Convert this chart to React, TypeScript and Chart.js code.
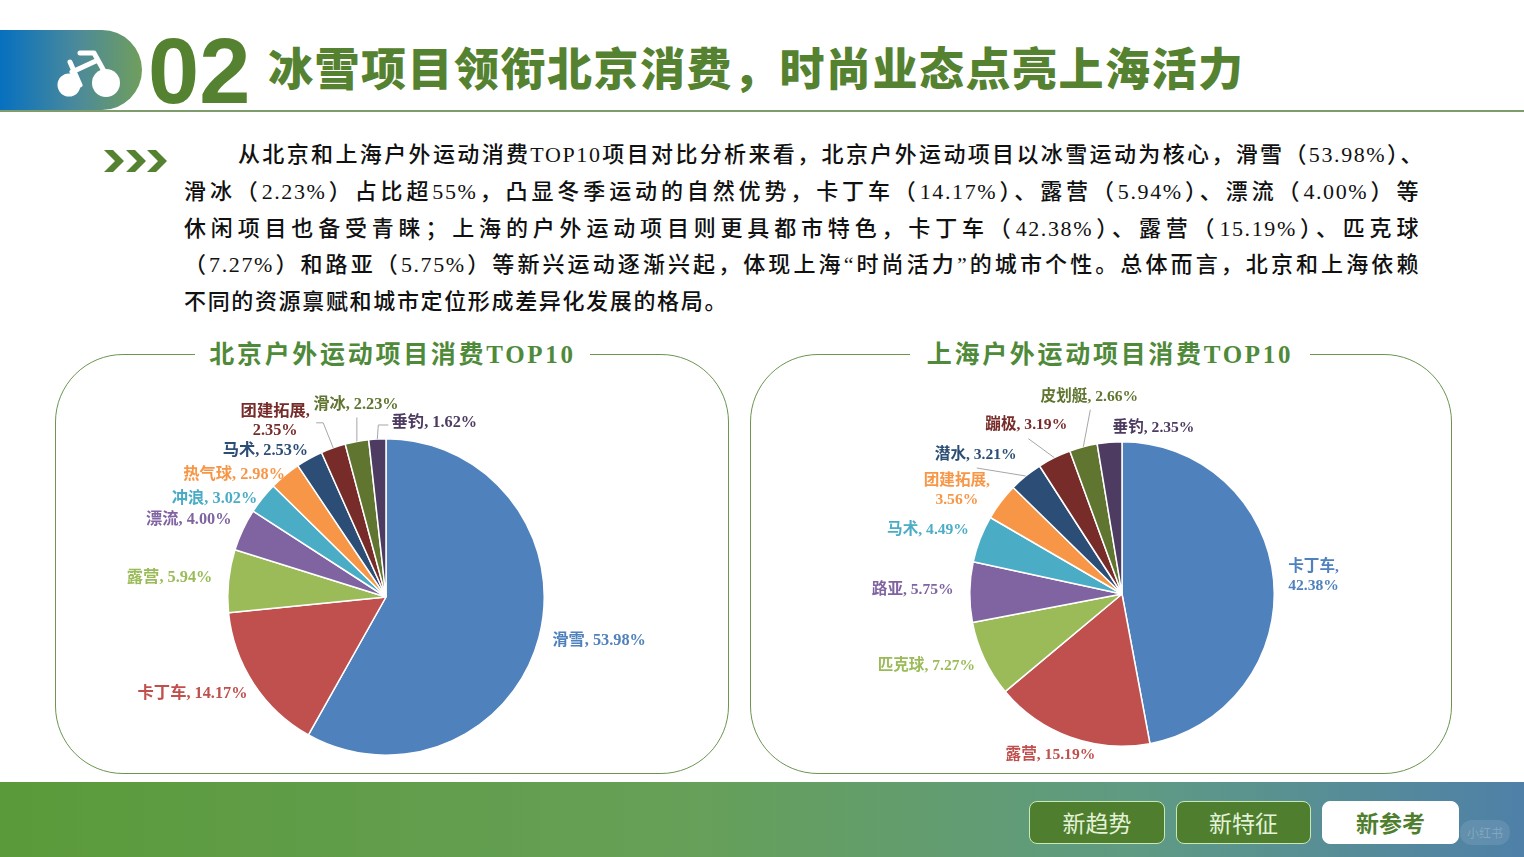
import { useEffect, useRef } from "react"
import { Chart, registerables, type Plugin } from "chart.js"

Chart.register(...registerables)

const sliceColors = ["#4F81BD", "#C0504D", "#9BBB59", "#8064A2", "#4BACC6", "#F79646", "#2C4D75", "#772C2A", "#5F7530", "#4D3B62"]

const beijingCategories = ["滑雪", "卡丁车", "露营", "漂流", "冲浪", "热气球", "马术", "团建拓展", "滑冰", "垂钓"]
const beijingValues = [53.98, 14.17, 5.94, 4.0, 3.02, 2.98, 2.53, 2.35, 2.23, 1.62]
const shanghaiCategories = ["卡丁车", "露营", "匹克球", "路亚", "马术", "团建拓展", "潜水", "蹦极", "皮划艇", "垂钓"]
const shanghaiValues = [42.38, 15.19, 7.27, 5.75, 4.49, 3.56, 3.21, 3.19, 2.66, 2.35]

// label centre, relative to the middle of each slice's outer edge
const beijingLabelOffsets = [[60, 4], [-61, 10.5], [-59, -3], [-54, -10], [-48, 1], [-51, 0], [-44, -8], [-58, -27], [-1, -37], [57, -16]]
const shanghaiLabelOffsets = [[40, -4], [-20, 18], [-58, 7], [-57, -2], [-52, -9], [-44, -11], [-50, -21], [-28, -33], [6, -50], [44, -14.5]]

// leader lines: slice index and points relative to the slice's outer edge
const beijingLeaders: [number, number[][]][] = [
  [7, [[-10, -25], [-17, -25]]],
  [8, [[0, -24]]],
  [9, [[1, -14], [11, -14]]],
]
const shanghaiLeaders: [number, number[][]][] = [
  [6, [[-49, -8]]],
  [7, [[-26, -19]]],
  [8, [[7, -37]]],
]

const wrappedCategories = ["团建拓展"]
const shanghaiWrapped = ["团建拓展", "卡丁车"]

const headline = "冰雪项目领衔北京消费\uFF0C时尚业态点亮上海活力"

const paragraphLines = [
  "从北京和上海户外运动消费TOP10项目对比分析来看\uFF0C北京户外运动项目以冰雪运动为核心\uFF0C滑雪\uFF0853.98%\uFF09、",
  "滑冰\uFF082.23%\uFF09占比超55%\uFF0C凸显冬季运动的自然优势\uFF0C卡丁车\uFF0814.17%\uFF09、露营\uFF085.94%\uFF09、漂流\uFF084.00%\uFF09等",
  "休闲项目也备受青睐\uFF1B上海的户外运动项目则更具都市特色\uFF0C卡丁车\uFF0842.38%\uFF09、露营\uFF0815.19%\uFF09、匹克球",
  "\uFF087.27%\uFF09和路亚\uFF085.75%\uFF09等新兴运动逐渐兴起\uFF0C体现上海“时尚活力”的城市个性。总体而言\uFF0C北京和上海依赖",
  "不同的资源禀赋和城市定位形成差异化发展的格局。",
]

const SERIF_CJK = '"Liberation Serif", "Noto Sans CJK SC", serif'

type PieProps = {
  categories: string[]
  values: number[]
  offsets: number[][]
  leaders: [number, number[][]][]
  wrapped: string[]
  labelSize: number
  left: number
  top: number
  width: number
  height: number
  padTop: number
  padBottom: number
}

function PieChart(props: PieProps) {
  const canvasRef = useRef<HTMLCanvasElement>(null)

  useEffect(() => {
    if (!canvasRef.current) return
    const { categories, values, offsets, leaders, wrapped, labelSize, padTop, padBottom } = props

    const labelPlugin: Plugin<"pie"> = {
      id: "sliceLabels",
      afterDatasetsDraw(chart) {
        const ctx = chart.ctx
        const arcs = chart.getDatasetMeta(0).data as any[]
        const edgeOf = (arc: any) => {
          const mid = (arc.startAngle + arc.endAngle) / 2
          return [arc.x + arc.outerRadius * Math.cos(mid), arc.y + arc.outerRadius * Math.sin(mid)]
        }
        ctx.save()
        ctx.strokeStyle = "#a6a6a6"
        ctx.lineWidth = 1
        leaders.forEach(([index, points]) => {
          const [ex, ey] = edgeOf(arcs[index])
          ctx.beginPath()
          ctx.moveTo(ex, ey)
          points.forEach(([dx, dy]) => ctx.lineTo(ex + dx, ey + dy))
          ctx.stroke()
        })
        ctx.font = `bold ${labelSize}px ${SERIF_CJK}`
        ctx.textAlign = "center"
        ctx.textBaseline = "middle"
        arcs.forEach((arc, i) => {
          const [ex, ey] = edgeOf(arc)
          const x = ex + offsets[i][0]
          const y = ey + offsets[i][1]
          const pct = values[i].toFixed(2) + "%"
          ctx.fillStyle = sliceColors[i]
          if (wrapped.includes(categories[i])) {
            ctx.fillText(categories[i] + ",", x, y - 9.5)
            ctx.fillText(pct, x, y + 9.5)
          } else {
            ctx.fillText(categories[i] + ", " + pct, x, y)
          }
        })
        ctx.restore()
      },
    }

    const chart = new Chart(canvasRef.current, {
      type: "pie",
      data: {
        labels: categories,
        datasets: [
          {
            data: values,
            backgroundColor: sliceColors,
            borderColor: "#ffffff",
            borderWidth: 1.5,
          },
        ],
      },
      options: {
        responsive: false,
        animation: false,
        devicePixelRatio: 1,
        layout: { padding: { top: padTop, bottom: padBottom } },
        plugins: { legend: { display: false }, tooltip: { enabled: false } },
      },
      plugins: [labelPlugin],
    })

    return () => {
      chart.destroy()
    }
  }, [])

  return (
    <canvas
      ref={canvasRef}
      width={props.width}
      height={props.height}
      style={{ position: "absolute", left: props.left, top: props.top, width: props.width, height: props.height }}
    />
  )
}

function Panel({ left, width, title, gapLeft, gapWidth }: { left: number; width: number; title: string; gapLeft: number; gapWidth: number }) {
  return (
    <>
      <div
        style={{
          position: "absolute",
          left,
          top: 354,
          width: width - 2,
          height: 418,
          border: "1px solid #6b9550",
          borderRadius: 68,
        }}
      />
      <div
        style={{
          position: "absolute",
          left: gapLeft,
          top: 338,
          width: gapWidth,
          height: 34,
          lineHeight: "34px",
          background: "#fff",
          textAlign: "center",
          color: "#4f8a3a",
          fontFamily: SERIF_CJK,
          fontWeight: 700,
          fontSize: 25,
          letterSpacing: 2.7,
          whiteSpace: "nowrap",
        }}
      >
        {title}
      </div>
    </>
  )
}

function NavButton({ left, width, text, active }: { left: number; width: number; text: string; active?: boolean }) {
  return (
    <div
      style={{
        position: "absolute",
        left,
        top: 801,
        width: width - 2,
        height: 41,
        lineHeight: "41px",
        textAlign: "center",
        borderRadius: 8,
        border: active ? "1px solid #fff" : "1px solid #c9e8b4",
        background: active ? "#fff" : "#4f7f2e",
        color: active ? "#4f7f2e" : "#e4f3d8",
        fontFamily: '"Noto Sans CJK SC"',
        fontWeight: active ? 700 : 400,
        fontSize: 23,
      }}
    >
      {text}
    </div>
  )
}

export default function App() {
  return (
    <div style={{ position: "fixed", left: 0, top: 0, width: 1524, height: 857, overflow: "hidden", background: "#fff" }}>
      {/* header */}
      <div
        style={{
          position: "absolute",
          left: 0,
          top: 30,
          width: 142,
          height: 80,
          borderRadius: "0 42px 42px 0",
          background: "linear-gradient(90deg, #0670c0 0%, #4c8a9a 55%, #709e5c 100%)",
        }}
      />
      <svg style={{ position: "absolute", left: 50, top: 38, width: 80, height: 64 }} viewBox="0 0 80 64">
        <circle cx="19" cy="47" r="11.5" fill="#fff" />
        <circle cx="56" cy="45" r="14" fill="#fff" />
        <path d="M30 15 H44 L60 44 M20 24 L30 47 M22 34 L48 22" stroke="#fff" strokeWidth="5" fill="none" strokeLinecap="round" strokeLinejoin="round" />
      </svg>
      <div
        style={{
          position: "absolute",
          left: 148,
          top: 21,
          fontFamily: '"Liberation Sans"',
          fontWeight: 700,
          fontSize: 92,
          lineHeight: "100px",
          color: "#558230",
        }}
      >
        02
      </div>
      <div
        style={{
          position: "absolute",
          left: 268,
          top: 36,
          width: 990,
          height: 62,
          lineHeight: "62px",
          fontFamily: '"Noto Sans CJK SC"',
          fontWeight: 900,
          fontSize: 45,
          letterSpacing: 1.5,
          whiteSpace: "nowrap",
          color: "#558230",
        }}
      >
        {headline}
      </div>
      <div style={{ position: "absolute", left: 0, top: 110, width: 1524, height: 2, background: "#7f9c6c" }} />

      {/* paragraph */}
      <svg style={{ position: "absolute", left: 104, top: 150, width: 64, height: 22 }} viewBox="0 0 64 22">
        <path d="M0 0 H9 L20 11 L9 22 H0 L11 11 Z M22 0 H31 L42 11 L31 22 H22 L33 11 Z M43 0 H52 L63 11 L52 22 H43 L54 11 Z" fill="#558230" />
      </svg>
      {paragraphLines.map((line, i) => (
        <div
          key={i}
          style={{
            position: "absolute",
            left: i === 0 ? 238 : 184,
            top: 136 + i * 36.8,
            width: i === 0 ? 1186 : i === 4 ? 544 : 1236,
            height: 37,
            lineHeight: "37px",
            fontFamily: SERIF_CJK,
            fontSize: 22,
            letterSpacing: 1.6,
            fontWeight: 500,
            color: "#111",
            textAlign: "justify",
            textAlignLast: "justify",
          }}
        >
          {line}
        </div>
      ))}

      {/* pie panels */}
      <Panel left={55} width={674} title="北京户外运动项目消费TOP10" gapLeft={195} gapWidth={395} />
      <Panel left={750} width={702} title="上海户外运动项目消费TOP10" gapLeft={910} gapWidth={400} />
      <PieChart
        categories={beijingCategories}
        values={beijingValues}
        offsets={beijingLabelOffsets}
        leaders={beijingLeaders}
        wrapped={wrappedCategories}
        labelSize={16.3}
        left={56}
        top={380}
        width={660}
        height={390}
        padTop={58}
        padBottom={14}
      />
      <PieChart
        categories={shanghaiCategories}
        values={shanghaiValues}
        offsets={shanghaiLabelOffsets}
        leaders={shanghaiLeaders}
        wrapped={shanghaiWrapped}
        labelSize={15.6}
        left={792}
        top={380}
        width={660}
        height={390}
        padTop={61}
        padBottom={23}
      />

      {/* footer */}
      <div
        style={{
          position: "absolute",
          left: 0,
          top: 782,
          width: 1524,
          height: 75,
          background: "linear-gradient(90deg, #5b9a3a 0%, #66a058 45%, #5f9a84 75%, #4f80a8 100%)",
        }}
      />
      <NavButton left={1029} width={136} text="新趋势" />
      <NavButton left={1176} width={135} text="新特征" />
      <NavButton left={1322} width={137} text="新参考" active />
      <div
        style={{
          position: "absolute",
          left: 1460,
          top: 820,
          width: 50,
          height: 25,
          lineHeight: "25px",
          borderRadius: 12,
          textAlign: "center",
          background: "rgba(255,255,255,0.1)",
          color: "rgba(255,255,255,0.22)",
          fontFamily: '"Noto Sans CJK SC"',
          fontSize: 12,
        }}
      >
        小红书
      </div>
    </div>
  )
}
